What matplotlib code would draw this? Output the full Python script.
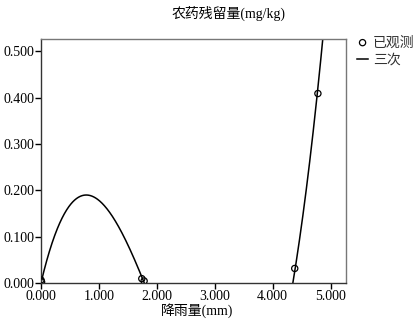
import numpy as np
import matplotlib
matplotlib.use("Agg")
import matplotlib.pyplot as plt
from matplotlib.ticker import FormatStrFormatter

plt.rcParams['font.family'] = ['Liberation Serif', 'Noto Sans CJK SC']

# Observed data (rainfall mm, residue mg/kg)
obs_x = [0.0, 0.01, 1.74, 1.78, 4.38, 4.78]
obs_y = [0.007, 0.003, 0.010, 0.005, 0.032, 0.409]
# Cubic fit coefficients: b0 + b1*x + b2*x^2 + b3*x^3
cubic_coef = [0.001, 0.526, -0.4162, 0.0679]

x_ticks = [0, 1, 2, 3, 4, 5]
y_ticks = [0.0, 0.1, 0.2, 0.3, 0.4, 0.5]

fig = plt.figure(figsize=(4.2, 3.21), dpi=100)
ax = fig.add_axes([41/420, 1-283.3/321, (346-41)/420, (283.3-39)/321])

xs = np.linspace(0, 5.265, 800)
ys = np.polyval(cubic_coef[::-1], xs)
ys = np.where((ys < 0) | (ys > 0.527), np.nan, ys)
line, = ax.plot(xs, ys, color='black', lw=1.1)
pts = ax.scatter(obs_x, obs_y, s=20, facecolors='none', edgecolors='black', linewidths=0.9, zorder=3)

ax.set_xlim(0, 5.265)
ax.set_ylim(0, 0.5265)
ax.set_xticks(x_ticks)
ax.set_yticks(y_ticks)
ax.xaxis.set_major_formatter(FormatStrFormatter('%.3f'))
ax.yaxis.set_major_formatter(FormatStrFormatter('%.3f'))
ax.tick_params(direction='out', length=4, width=1, labelsize=10, pad=1)
for s in ['left', 'bottom']:
    ax.spines[s].set_linewidth(1.0)
    ax.spines[s].set_color('#333333')
for s in ['top', 'right']:
    ax.spines[s].set_linewidth(1.0)
    ax.spines[s].set_color('#777777')

fig.text(229/420, 1-13/321, '农药残留量(mg/kg)', ha='center', va='center', fontsize=10)
fig.text(197/420, 1-311/321, '降雨量(mm)', ha='center', va='center', fontsize=10)

fig.legend([pts, line], ['已观测', '三次'], loc='upper left',
           bbox_to_anchor=(357/420, 1-36/321), frameon=False, fontsize=10,
           handlelength=0.8, handletextpad=0.35, labelspacing=0.3, borderpad=0,
           borderaxespad=0, labelcolor='#333333')

fig.savefig('out.png', dpi=100)
